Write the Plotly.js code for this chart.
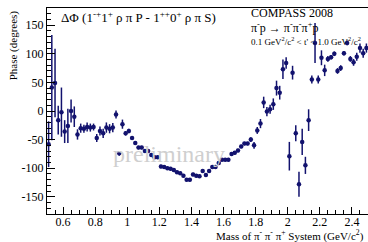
<!DOCTYPE html>
<html>
<head>
<meta charset="utf-8">
<script src="https://cdn.plot.ly/plotly-3.0.1.min.js"></script>
<style>
  html, body { margin: 0; padding: 0; background: #ffffff; }
  #chart { width: 368px; height: 242px; }
</style>
</head>
<body>
<div id="chart"></div>
<script>
// Bin centres (GeV/c^2)
const mass = [
  0.51, 0.53, 0.55, 0.57, 0.59, 0.61, 0.63, 0.65, 0.67, 0.69,
  0.71, 0.73, 0.75, 0.77, 0.79, 0.81, 0.83, 0.85, 0.87, 0.89,
  0.91, 0.93, 0.95, 0.97, 0.99, 1.01, 1.03, 1.05, 1.07, 1.09,
  1.11, 1.13, 1.15, 1.17, 1.19, 1.21, 1.23, 1.25, 1.27, 1.29,
  1.31, 1.33, 1.35, 1.37, 1.39, 1.41, 1.43, 1.45, 1.47, 1.49,
  1.51, 1.53, 1.55, 1.57, 1.59, 1.61, 1.63, 1.65, 1.67, 1.69,
  1.71, 1.73, 1.75, 1.77, 1.79, 1.81, 1.83, 1.85, 1.87, 1.89,
  1.91, 1.93, 1.95, 1.97, 1.99, 2.01, 2.03, 2.05, 2.07, 2.09,
  2.11, 2.13, 2.15, 2.17, 2.19, 2.21, 2.23, 2.25, 2.27, 2.29,
  2.31, 2.33, 2.35, 2.37, 2.39, 2.41, 2.43, 2.45, 2.47, 2.49
];
// Phase difference (degrees)
const phase = [
  -58, 41, 49, -16, -2, -36, -26, 0, -10, -41,
  -30, -31, -28, -29, -28, -47, -35, -39, -29, -31,
  -29, -6, -74, -23, -39, -35, -47, -56, -64, -64,
  -70, -70, -77, -81, -81, -97, -98, -100, -101, -103,
  -107, -109, -113, -120, -120, -111, -113, -114, -105, -112,
  -105, -98, -98, -91, -85, -85, -85, -75, -73, -69,
  -62, -57, -57, -50, -60, -34, -22, 15, -1, 3,
  12, 40, 32, 73, 84, -79, 67, -39, -128, -54,
  -95, -16, 55, 119, 55, 93, 71, 91, 94, 100,
  70, 75, 101, 119, 91, 85, 95, 110, 101, 110
];
// Statistical errors (degrees)
const phaseErr = [
  40, 92, 60, 25, 43, 20, 30, 20, 18, 9,
  8, 7, 8, 7, 6, 7, 8, 8, 9, 8,
  8, 7, 4, 8, 4, 4, 3, 3, 3, 3,
  3, 3, 3, 3, 3, 3, 3, 3, 3, 3,
  3, 3, 3, 3, 3, 3, 3, 3, 3, 3,
  3, 3, 3, 3, 3, 3, 3, 3, 3, 3,
  3, 3, 3, 4, 6, 6, 8, 10, 8, 8,
  10, 13, 12, 17, 10, 25, 12, 14, 22, 23,
  15, 19, 7, 35, 7, 13, 10, 5, 4, 4,
  5, 5, 4, 4, 5, 6, 7, 8, 8, 8
];
const xTickVals = [0.6, 0.8, 1.0, 1.2, 1.4, 1.6, 1.8, 2.0, 2.2, 2.4];
const xTickText = ['0.6', '0.8', '1', '1.2', '1.4', '1.6', '1.8', '2', '2.2', '2.4'];
const yTickVals = [-150, -100, -50, 0, 50, 100, 150];
const yTickText = ['-150', '-100', '-50', '0', '50', '100', '150'];

const serif = 'Liberation Serif, Times New Roman, serif';
const ink = '#12126e';

const trace = {
  type: 'scatter',
  mode: 'markers',
  x: mass,
  y: phase,
  error_y: { type: 'data', array: phaseErr, visible: true, color: ink, thickness: 1.5, width: 0 },
  marker: { color: ink, size: 4.5, symbol: 'circle' },
  hoverinfo: 'skip'
};

const layout = {
  width: 368,
  height: 242,
  margin: { l: 47, r: 0, t: 8, b: 28, pad: 0 },
  paper_bgcolor: '#ffffff',
  plot_bgcolor: '#ffffff',
  showlegend: false,
  font: { family: serif, color: '#000000', size: 12 },
  xaxis: {
    range: [0.5, 2.5],
    tickmode: 'array', tickvals: xTickVals, ticktext: xTickText,
    ticks: 'inside', ticklen: 7, tickwidth: 1, tickcolor: '#000',
    ticklabelstandoff: -3,
    minor: { tickmode: 'linear', tick0: 0.5, dtick: 0.05, ticks: 'inside', ticklen: 4, tickwidth: 1, tickcolor: '#000' },
    showline: true, linecolor: '#000', linewidth: 1, mirror: true,
    showgrid: false, zeroline: false,
    tickfont: { family: serif, size: 12, color: '#000' }
  },
  yaxis: {
    range: [-180, 180],
    tickmode: 'array', tickvals: yTickVals, ticktext: yTickText,
    ticks: 'inside', ticklen: 8, tickwidth: 1, tickcolor: '#000',
    minor: { tickmode: 'linear', tick0: 0, dtick: 10, ticks: 'inside', ticklen: 4, tickwidth: 1, tickcolor: '#000' },
    showline: true, linecolor: '#000', linewidth: 1, mirror: true,
    showgrid: false, zeroline: false,
    tickfont: { family: serif, size: 12, color: '#000' }
  },
  annotations: [
    { text: 'preliminary', xref: 'paper', yref: 'paper', x: 0.38, y: 0.29,
      xanchor: 'center', yanchor: 'middle', showarrow: false,
      font: { family: serif, size: 24, color: '#cfcfcf' } },
    { text: 'ΔΦ (1<sup>-+</sup>1<sup>+</sup> ρ π P - 1<sup>++</sup>0<sup>+</sup> ρ π S)',
      xref: 'paper', yref: 'paper', x: 0.037, y: 0.955, xanchor: 'left', yanchor: 'middle',
      showarrow: false, font: { family: serif, size: 13, color: '#000' } },
    { text: 'COMPASS 2008', xref: 'paper', yref: 'paper', x: 0.628, y: 0.975,
      xanchor: 'left', yanchor: 'middle', showarrow: false,
      font: { family: serif, size: 12, color: '#000' } },
    { text: 'π<sup>-</sup>p → π<sup>-</sup>π<sup>-</sup>π<sup>+</sup>p', xref: 'paper', yref: 'paper', x: 0.628, y: 0.905,
      xanchor: 'left', yanchor: 'middle', showarrow: false,
      font: { family: serif, size: 12, color: '#000' } },
    { text: '0.1 GeV<sup>2</sup>/c<sup>2</sup> < t\' < 1.0 GeV<sup>2</sup>/c<sup>2</sup>', xref: 'paper', yref: 'paper', x: 0.628, y: 0.84,
      xanchor: 'left', yanchor: 'middle', showarrow: false,
      font: { family: serif, size: 9, color: '#000' } },
    { text: 'Phase (degrees)', xref: 'paper', yref: 'paper', x: -0.105, y: 1.0,
      xanchor: 'center', yanchor: 'top', textangle: -90, showarrow: false,
      font: { family: serif, size: 11, color: '#000' } },
    { text: 'Mass of π<sup>-</sup> π<sup>-</sup> π<sup>+</sup> System (GeV/c<sup>2</sup>)', xref: 'paper', yref: 'paper', x: 0.995, y: -0.058,
      xanchor: 'right', yanchor: 'top', showarrow: false,
      font: { family: serif, size: 11, color: '#000' } }
  ]
};

Plotly.newPlot('chart', [trace], layout, { staticPlot: true, displayModeBar: false });
</script>
</body>
</html>
